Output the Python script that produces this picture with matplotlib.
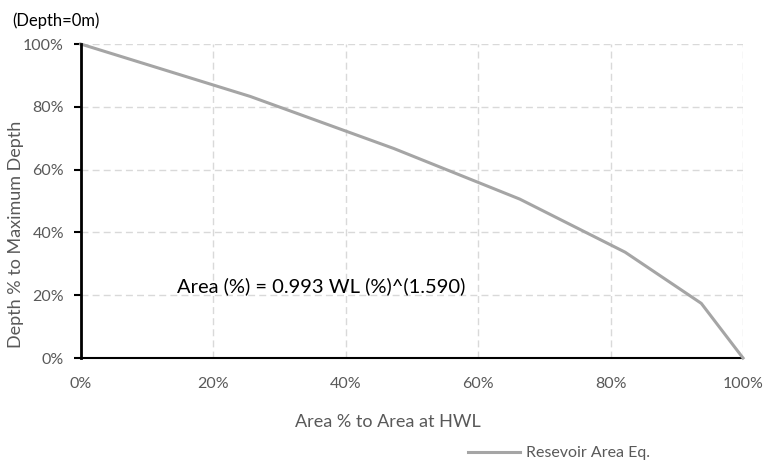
import matplotlib.pyplot as plt
from matplotlib.ticker import PercentFormatter

# Reservoir area-depth curve (values in %)
area_pct = [0, 25.6, 47.3, 66.3, 82.2, 93.7, 100]
depth_pct = [100, 83.3, 66.7, 50.6, 33.7, 17.4, 0]
x_ticks = [0, 20, 40, 60, 80, 100]
y_ticks = [0, 20, 40, 60, 80, 100]

plt.rcParams['font.family'] = ['Lato', 'DejaVu Sans']

W, H = 769, 471
fig = plt.figure(figsize=(W / 100, H / 100), dpi=100)
ax = fig.add_axes([80.7 / W, 1 - 358 / H, (743 - 80.7) / W, (358 - 44) / H])

ax.plot(area_pct, depth_pct, color="#a5a5a5", lw=2.2,
        label="Resevoir Area Eq.", zorder=3, clip_on=False)

ax.set_xlim(0, 100)
ax.set_ylim(0, 100)
ax.set_xticks(x_ticks)
ax.set_yticks(y_ticks)
ax.xaxis.set_major_formatter(PercentFormatter(decimals=0))
ax.yaxis.set_major_formatter(PercentFormatter(decimals=0))

# dashed light grid
ax.grid(True, color="#d9d9d9", linestyle=(0, (5, 3)), lw=1)
ax.set_axisbelow(True)

for side in ["top", "right"]:
    ax.spines[side].set_visible(False)
ax.spines["left"].set_color("black")
ax.spines["left"].set_linewidth(2)
ax.spines["bottom"].set_color("black")
ax.spines["bottom"].set_linewidth(1.5)
ax.spines["left"].set_zorder(4)

ax.tick_params(axis="y", colors="black", labelcolor="#595959",
               labelsize=11.5, length=5, width=1.5, direction="out", pad=7)
ax.tick_params(axis="x", length=0, labelcolor="#595959", labelsize=11.5, pad=14)

# axis titles placed like the original
fig.text(387.5 / W, 1 - 422 / H, "Area % to Area at HWL", color="#595959",
         fontsize=13, ha="center", va="center")
fig.text(16 / W, 1 - 234 / H, "Depth % to Maximum Depth", color="#595959",
         fontsize=13, ha="center", va="center", rotation=90)

ax.text(14.5, 22.9, "Area (%) = 0.993 WL (%)^(1.590)", fontsize=14.5,
        color="black", va="center", ha="left")
fig.text(12 / W, 1 - 21 / H, "(Depth=0m)", fontsize=12, color="black", va="center")

fig.legend(loc="center left", bbox_to_anchor=(468 / W, 1 - 453 / H), frameon=False,
           fontsize=11.5, handlelength=3.25, handletextpad=0.4,
           borderpad=0, borderaxespad=0, labelcolor="#595959")

fig.savefig("out.png", dpi=100)
